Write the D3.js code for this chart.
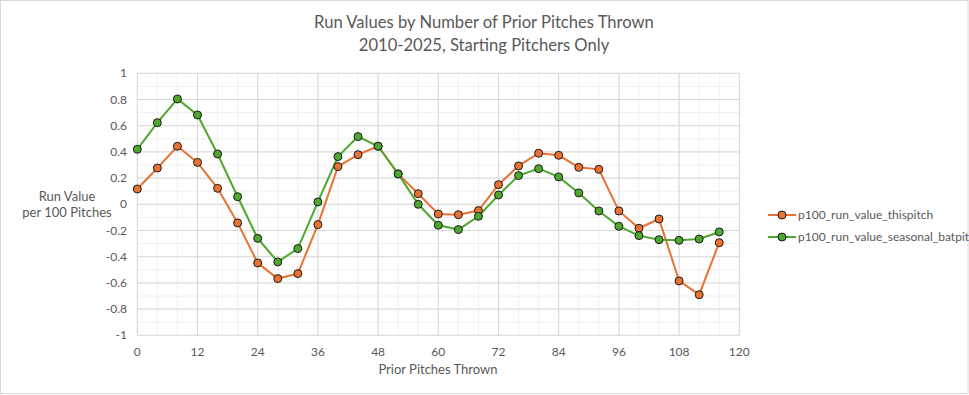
<!DOCTYPE html>
<html>
<head>
<meta charset="utf-8">
<script src="https://cdn.jsdelivr.net/npm/d3@7"></script>
<style>
  body { margin:0; background:#fff; }
  svg { font-family: Lato, "Noto Sans", sans-serif; }
</style>
</head>
<body>
<script>
// data
var pitches = [0,4,8,12,16,20,24,28,32,36,40,44,48,52,56,60,64,68,72,76,80,84,88,92,96,100,104,108,112,116];
var thispitch = [0.117,0.277,0.443,0.32,0.122,-0.142,-0.448,-0.567,-0.529,-0.155,0.288,0.379,0.443,0.232,0.081,-0.074,-0.079,-0.048,0.150,0.293,0.390,0.374,0.282,0.267,-0.051,-0.183,-0.112,-0.585,-0.690,-0.293];
var batpit = [0.42,0.623,0.804,0.682,0.384,0.058,-0.26,-0.44,-0.338,0.018,0.364,0.517,0.443,0.232,0.0,-0.160,-0.193,-0.092,0.071,0.219,0.272,0.209,0.087,-0.051,-0.168,-0.239,-0.270,-0.275,-0.265,-0.211];
var xTicks = [0,12,24,36,48,60,72,84,96,108,120];
var yTicks = [-1,-0.8,-0.6,-0.4,-0.2,0,0.2,0.4,0.6,0.8,1];
var seriesNames = ["p100_run_value_thispitch","p100_run_value_seasonal_batpit"];
var seriesColors = ["#E97132","#4EA72E"];

var W=969, H=395;
var svg = d3.select("body").append("svg").attr("width",W).attr("height",H);

svg.append("rect").attr("x",0.5).attr("y",0.5).attr("width",W-1.5).attr("height",H-2)
  .attr("fill","#fff").attr("stroke","#d9d9d9");

var x = d3.scaleLinear().domain([0,120]).range([137.3,739.3]);
var y = d3.scaleLinear().domain([-1,1]).range([335.3,73.3]);

//minor grid
var g = svg.append("g");
g.selectAll("line.minx").data(d3.range(0,121,4)).enter().append("line")
  .attr("x1",function(d){return x(d);}).attr("x2",function(d){return x(d);})
  .attr("y1",y(-1)).attr("y2",y(1)).attr("stroke","#f0f0f0").attr("stroke-width",1);
g.selectAll("line.miny").data(d3.range(-10,11,1)).enter().append("line")
  .attr("y1",function(d){return y(d/10);}).attr("y2",function(d){return y(d/10);})
  .attr("x1",x(0)).attr("x2",x(120)).attr("stroke","#f0f0f0").attr("stroke-width",1);
//major grid
g.selectAll("line.majx").data(xTicks).enter().append("line")
  .attr("x1",function(d){return x(d);}).attr("x2",function(d){return x(d);})
  .attr("y1",y(-1)).attr("y2",y(1)).attr("stroke","#d9d9d9").attr("stroke-width",1);
g.selectAll("line.majy").data(yTicks).enter().append("line")
  .attr("y1",function(d){return y(d);}).attr("y2",function(d){return y(d);})
  .attr("x1",x(0)).attr("x2",x(120)).attr("stroke","#d9d9d9").attr("stroke-width",1);

//axes labels
svg.selectAll("text.xt").data(xTicks).enter().append("text")
  .attr("x",function(d){return x(d);}).attr("y",356)
  .attr("text-anchor","middle").attr("font-size",12).attr("fill","#595959")
  .text(function(d){return d;});
svg.selectAll("text.yt").data(yTicks).enter().append("text")
  .attr("x",127).attr("y",function(d){return y(d)+4;})
  .attr("text-anchor","end").attr("font-size",12).attr("fill","#595959")
  .text(function(d){return String(d);});

//titles
svg.append("text").attr("x",484).attr("y",28).attr("text-anchor","middle")
  .attr("font-size",16.6).attr("fill","#595959").text("Run Values by Number of Prior Pitches Thrown");
svg.append("text").attr("x",484).attr("y",51).attr("text-anchor","middle")
  .attr("font-size",16.6).attr("fill","#595959").text("2010-2025, Starting Pitchers Only");
svg.append("text").attr("x",438).attr("y",374).attr("text-anchor","middle")
  .attr("font-size",13).attr("fill","#595959").text("Prior Pitches Thrown");
svg.append("text").attr("x",67).attr("y",201).attr("text-anchor","middle")
  .attr("font-size",13).attr("fill","#595959").text("Run Value");
svg.append("text").attr("x",67).attr("y",217).attr("text-anchor","middle")
  .attr("font-size",13).attr("fill","#595959").text("per 100 Pitches");

//series
var series = [thispitch, batpit];
var line = d3.line().x(function(d,i){return x(pitches[i]);}).y(function(d){return y(d);});
series.forEach(function(s,k){
  svg.append("path").datum(s).attr("d",line).attr("fill","none")
    .attr("stroke",seriesColors[k]).attr("stroke-width",2);
});
series.forEach(function(s,k){
  svg.selectAll("circle.s"+k).data(s).enter().append("circle")
    .attr("cx",function(d,i){return x(pitches[i]);}).attr("cy",function(d){return y(d);})
    .attr("r",4).attr("fill",seriesColors[k]).attr("stroke","#1a1a1a").attr("stroke-width",1);
});

//legend
var leg = svg.selectAll("g.leg").data(seriesNames).enter().append("g")
  .attr("transform",function(d,i){return "translate(0,"+(215+i*22)+")";});
leg.append("line").attr("x1",768).attr("x2",796).attr("y1",0).attr("y2",0)
  .attr("stroke",function(d,i){return seriesColors[i];}).attr("stroke-width",2);
leg.append("circle").attr("cx",782).attr("cy",0).attr("r",4)
  .attr("fill",function(d,i){return seriesColors[i];}).attr("stroke","#1a1a1a");
leg.append("text").attr("x",798).attr("y",4).attr("font-size",12).attr("fill","#595959")
  .text(function(d){return d;});
</script>
</body>
</html>
